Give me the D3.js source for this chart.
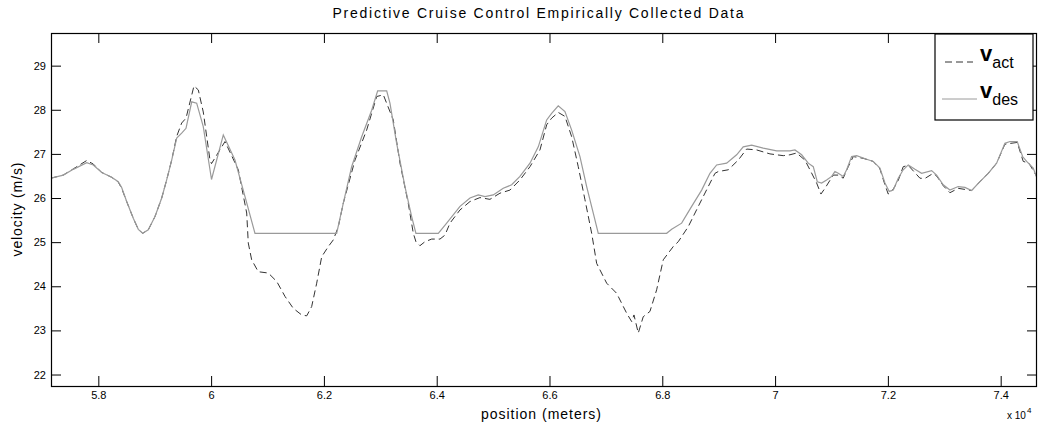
<!DOCTYPE html>
<html>
<head>
<meta charset="utf-8">
<script src="https://cdn.jsdelivr.net/npm/d3@7"></script>
<style>
    body { margin: 0; background: #fff; }
    svg { display: block; font-family: "Liberation Sans", Arial, sans-serif; }
    .tick text { font-size: 11px; fill: #000; }
    .tick line { stroke: #000; }
</style>
</head>
<body>
<svg id="chart"></svg>
<script>
// desired velocity (solid gray line)
const positionDes = [57161, 57379, 57556, 57794, 57911, 58060, 58237, 58354, 58414, 58503, 58620, 58709, 58787, 58886, 59005, 59124, 59212, 59301, 59390, 59478, 59555, 59656, 59744, 59861, 60007, 60216, 60423, 60601, 60778, 62226, 62343, 62492, 62670, 62847, 62953, 63113, 63171, 63290, 63437, 63556, 63632, 64028, 64177, 64413, 64590, 64737, 64856, 65003, 65180, 65329, 65476, 65654, 65801, 65950, 66038, 66155, 66274, 66393, 66540, 66659, 66776, 66865, 68077, 68166, 68343, 68521, 68698, 68845, 68964, 69141, 69318, 69435, 69584, 69790, 70028, 70263, 70352, 70471, 70588, 70677, 70748, 70825, 70914, 71003, 71061, 71120, 71208, 71269, 71357, 71446, 71623, 71740, 71859, 71948, 72024, 72095, 72184, 72272, 72361, 72480, 72598, 72776, 72864, 72981, 73100, 73247, 73366, 73485, 73632, 73779, 73928, 74075, 74164, 74293, 74389, 74460, 74577, 74644];
const velocityDes = [26.45, 26.52, 26.65, 26.80, 26.75, 26.58, 26.47, 26.37, 26.24, 25.92, 25.54, 25.29, 25.20, 25.28, 25.58, 26.00, 26.41, 26.86, 27.36, 27.47, 27.58, 28.18, 28.15, 27.62, 26.42, 27.43, 26.86, 26.03, 25.20, 25.20, 25.88, 26.71, 27.39, 27.99, 28.43, 28.43, 28.15, 27.24, 26.26, 25.58, 25.20, 25.20, 25.43, 25.81, 26.00, 26.07, 26.03, 26.07, 26.22, 26.30, 26.49, 26.79, 27.16, 27.77, 27.92, 28.09, 27.96, 27.54, 26.94, 26.26, 25.66, 25.20, 25.20, 25.29, 25.43, 25.81, 26.18, 26.56, 26.75, 26.79, 26.98, 27.16, 27.20, 27.13, 27.07, 27.07, 27.09, 26.98, 26.79, 26.71, 26.37, 26.34, 26.41, 26.49, 26.60, 26.56, 26.49, 26.64, 26.94, 26.96, 26.88, 26.83, 26.68, 26.34, 26.15, 26.18, 26.45, 26.64, 26.75, 26.65, 26.56, 26.62, 26.52, 26.30, 26.18, 26.26, 26.24, 26.17, 26.37, 26.56, 26.79, 27.24, 27.28, 27.28, 26.94, 26.83, 26.68, 26.45];

// actual velocity (dashed dark line)
const positionAct = [57161, 57379, 57556, 57794, 57911, 58060, 58237, 58354, 58414, 58503, 58620, 58709, 58787, 58886, 59005, 59124, 59212, 59301, 59390, 59478, 59555, 59696, 59773, 59861, 59980, 60007, 60246, 60482, 60631, 60659, 60719, 60836, 61014, 61163, 61310, 61457, 61606, 61695, 61783, 61872, 61961, 62078, 62166, 62255, 62343, 62551, 62758, 62936, 63053, 63230, 63349, 63496, 63585, 63632, 63703, 63792, 63911, 64058, 64147, 64235, 64413, 64590, 64767, 64944, 65122, 65299, 65476, 65654, 65831, 65950, 66038, 66155, 66274, 66393, 66510, 66629, 66748, 66836, 67014, 67191, 67368, 67457, 67498, 67574, 67662, 67781, 67900, 68017, 68194, 68283, 68460, 68638, 68815, 68934, 68992, 69170, 69347, 69496, 69673, 69909, 70145, 70263, 70382, 70529, 70618, 70737, 70813, 70884, 71031, 71120, 71208, 71297, 71386, 71563, 71740, 71859, 71948, 72006, 72095, 72184, 72272, 72361, 72568, 72652, 72804, 72864, 72981, 73100, 73247, 73485, 73632, 73779, 73928, 74075, 74293, 74400, 74500, 74644];
const velocityAct = [26.45, 26.52, 26.66, 26.85, 26.77, 26.58, 26.47, 26.36, 26.22, 25.92, 25.54, 25.29, 25.20, 25.28, 25.58, 26.00, 26.41, 26.86, 27.40, 27.70, 27.81, 28.54, 28.45, 27.95, 26.86, 26.78, 27.28, 26.64, 25.66, 24.98, 24.60, 24.33, 24.30, 24.11, 23.77, 23.50, 23.35, 23.33, 23.54, 24.07, 24.67, 24.90, 25.05, 25.35, 25.88, 26.86, 27.54, 28.30, 28.34, 27.77, 26.79, 25.88, 25.20, 25.01, 24.92, 25.01, 25.07, 25.07, 25.16, 25.43, 25.73, 25.92, 26.01, 25.97, 26.11, 26.18, 26.41, 26.71, 27.09, 27.66, 27.81, 27.94, 27.85, 27.39, 26.71, 25.96, 25.20, 24.52, 24.07, 23.84, 23.39, 23.20, 23.35, 22.94, 23.31, 23.43, 23.92, 24.60, 24.90, 25.01, 25.35, 25.81, 26.26, 26.56, 26.60, 26.64, 26.86, 27.11, 27.09, 27.00, 26.96, 26.98, 27.02, 26.86, 26.64, 26.34, 26.09, 26.22, 26.52, 26.52, 26.45, 26.71, 26.94, 26.90, 26.83, 26.66, 26.30, 26.09, 26.20, 26.40, 26.71, 26.74, 26.45, 26.44, 26.56, 26.50, 26.28, 26.12, 26.22, 26.17, 26.37, 26.56, 26.79, 27.22, 27.26, 26.83, 26.79, 26.48];

// axis limits and ticks
const xDomain = [57161, 74644];
const yDomain = [21.74, 29.74];
const xTicks = [58000, 60000, 62000, 64000, 66000, 68000, 70000, 72000, 74000];
const yTicks = [22, 23, 24, 25, 26, 27, 28, 29];

class LinePlot {
    constructor(_config) {
        this.config = {
            parentElement: _config.parentElement,
            containerWidth: _config.containerWidth || 1039,
            containerHeight: _config.containerHeight || 428,
            margin: _config.margin || {top: 33, right: 2, bottom: 42, left: 51},
        }
        this.initVis();
    }

    initVis() {
        let vis = this;
        vis.width = vis.config.containerWidth - vis.config.margin.left - vis.config.margin.right;
        vis.height = vis.config.containerHeight - vis.config.margin.top - vis.config.margin.bottom;

        vis.xScale = d3.scaleLinear().domain(xDomain).range([0, vis.width]);
        vis.yScale = d3.scaleLinear().domain(yDomain).range([vis.height, 0]);

        vis.svg = d3.select(vis.config.parentElement)
            .attr('width', vis.config.containerWidth)
            .attr('height', vis.config.containerHeight);

        vis.chart = vis.svg.append('g')
            .attr('transform', `translate(${vis.config.margin.left},${vis.config.margin.top})`);

        vis.chart.append('clipPath').attr('id', 'plot-clip')
            .append('rect').attr('width', vis.width).attr('height', vis.height);

        vis.renderVis();
    }

    renderVis() {
        let vis = this;
        const tickLen = 10;

        // MATLAB-style ticks pointing inward, on all four sides
        const axes = [
            {axis: d3.axisBottom(vis.xScale).tickValues(xTicks).tickFormat(d => d3.format('~g')(d / 1e4)), t: `translate(0,${vis.height})`},
            {axis: d3.axisTop(vis.xScale).tickValues(xTicks).tickFormat(''), t: 'translate(0,0)'},
            {axis: d3.axisLeft(vis.yScale).tickValues(yTicks).tickFormat(d3.format('d')), t: 'translate(0,0)'},
            {axis: d3.axisRight(vis.yScale).tickValues(yTicks).tickFormat(''), t: `translate(${vis.width},0)`}
        ];
        axes.forEach(a => {
            const g = vis.chart.append('g')
                .attr('transform', a.t)
                .call(a.axis.tickSizeInner(-tickLen).tickSizeOuter(0).tickPadding(5));
            g.select('.domain').remove();
        });
        vis.chart.selectAll('.tick text').attr('font-family', '"Liberation Sans", Arial, sans-serif');

        const line = d3.line()
            .x(d => vis.xScale(d[0]))
            .y(d => vis.yScale(d[1]));

        const actData = positionAct.map((p, i) => [p, velocityAct[i]]);
        const desData = positionDes.map((p, i) => [p, velocityDes[i]]);

        const lines = vis.chart.append('g').attr('clip-path', 'url(#plot-clip)');
        lines.append('path')
            .datum(actData)
            .attr('d', line)
            .attr('fill', 'none')
            .attr('stroke', '#333')
            .attr('stroke-width', 1)
            .attr('stroke-dasharray', '7,4');
        lines.append('path')
            .datum(desData)
            .attr('d', line)
            .attr('fill', 'none')
            .attr('stroke', '#9a9a9a')
            .attr('stroke-width', 1.2);

        // box
        vis.chart.append('rect')
            .attr('x', 0.5).attr('y', 0.5)
            .attr('width', vis.width - 1).attr('height', vis.height)
            .attr('fill', 'none')
            .attr('stroke', '#000')
            .attr('stroke-width', 1.2);

        // legend
        const lg = vis.chart.append('g').attr('transform', `translate(${vis.width - 102},1)`);
        lg.append('rect')
            .attr('width', 98).attr('height', 86)
            .attr('fill', '#fff').attr('stroke', '#000').attr('stroke-width', 1.2);
        const entries = [
            {sub: 'act', y: 28, dash: '7,4', color: '#333', x0: 10, x1: 38},
            {sub: 'des', y: 65, dash: null, color: '#9a9a9a', x0: 7, x1: 42}
        ];
        entries.forEach(e => {
            lg.append('line')
                .attr('x1', e.x0).attr('x2', e.x1)
                .attr('y1', e.y).attr('y2', e.y)
                .attr('stroke', e.color)
                .attr('stroke-dasharray', e.dash);
            const t = lg.append('text').attr('x', 45).attr('y', e.y - 1).attr('fill', '#000');
            t.append('tspan').text('v').attr('font-size', 22).attr('font-weight', 'bold');
            t.append('tspan').text(e.sub).attr('font-size', 16).attr('dy', 7);
        });

        // title and labels
        vis.svg.append('text')
            .attr('x', vis.config.margin.left + vis.width / 2 - 6)
            .attr('y', 18)
            .attr('text-anchor', 'middle')
            .attr('font-size', 14)
            .attr('textLength', 411).attr('lengthAdjust', 'spacing')
            .text('Predictive Cruise Control Empirically Collected Data');

        vis.svg.append('text')
            .attr('x', vis.config.margin.left + vis.width / 2 - 3)
            .attr('y', 419)
            .attr('text-anchor', 'middle')
            .attr('font-size', 14)
            .attr('textLength', 120).attr('lengthAdjust', 'spacing')
            .text('position (meters)');

        vis.svg.append('text')
            .attr('transform', `translate(22,${vis.config.margin.top + vis.height / 2}) rotate(-90)`)
            .attr('text-anchor', 'middle')
            .attr('font-size', 14)
            .attr('textLength', 94).attr('lengthAdjust', 'spacing')
            .text('velocity (m/s)');

        const mult = vis.svg.append('text')
            .attr('x', 1007).attr('y', 419)
            .attr('font-size', 10);
        mult.append('tspan').text('x 10');
        mult.append('tspan').text('4').attr('font-size', 8).attr('dy', -6).attr('dx', 1);
    }
}

new LinePlot({parentElement: '#chart'});
</script>
</body>
</html>
